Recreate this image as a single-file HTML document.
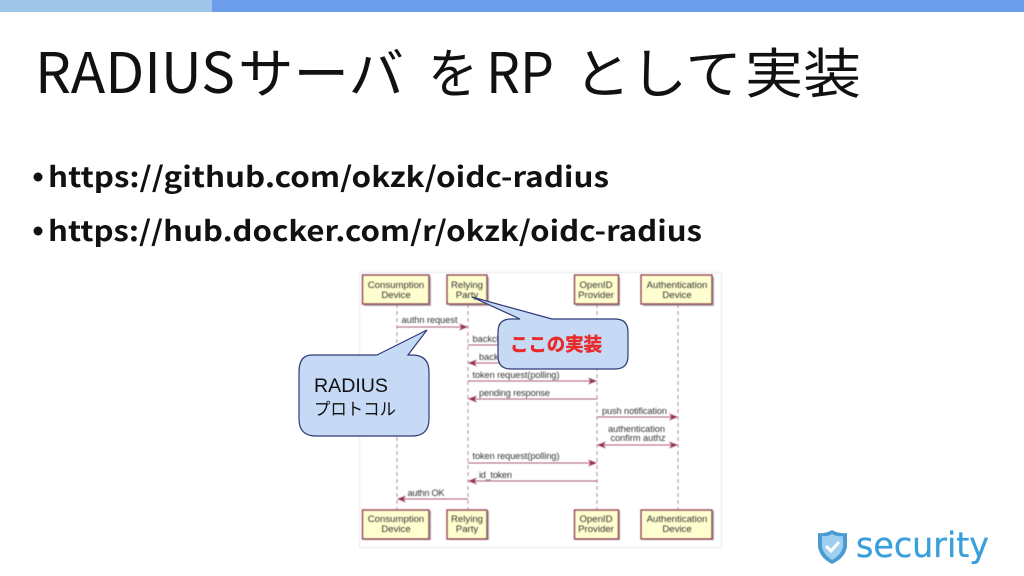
<!DOCTYPE html>
<html><head><meta charset="utf-8"><style>
html,body{margin:0;padding:0;background:#fff;width:1024px;height:576px;overflow:hidden}
svg{display:block}
.t{font-family:"Noto Sans CJK JP","Liberation Sans",sans-serif;font-weight:400;font-size:54px;fill:#111}
.l{font-family:"Noto Sans CJK JP","Liberation Sans",sans-serif;font-weight:400;font-size:56px;fill:#111}
.b{font-family:"Noto Sans CJK JP","Liberation Sans",sans-serif;font-weight:700;font-size:28px;fill:#111}
.n{font-family:"Liberation Sans",sans-serif;font-size:9.6px;fill:#333;text-anchor:middle}
.m{font-family:"Liberation Sans",sans-serif;font-size:9.2px;fill:#333}
.box{fill:#fefece;stroke:#8a3a4c;stroke-width:1.3}
.sh{fill:#888;opacity:.7}
.life{stroke:#9a5a70;stroke-opacity:.7;stroke-width:1;stroke-dasharray:4 3}
.ar{stroke:#a04060;stroke-opacity:.85;stroke-width:1;fill:none}
.hd{fill:#8f2448;opacity:.9}
.soft{filter:blur(.4px)}
.crisp{filter:blur(.2px)}
</style></head><body>
<svg width="1024" height="576" viewBox="0 0 1024 576" xmlns="http://www.w3.org/2000/svg">
<rect x="0" y="0" width="1024" height="12" fill="#6d9eeb"/>
<rect x="0" y="0" width="212" height="12" fill="#9fc5e8"/>

<text class="l" x="35" y="93" textLength="200" lengthAdjust="spacingAndGlyphs">RADIUS</text>
<text class="t" x="238" y="93" textLength="166" lengthAdjust="spacingAndGlyphs">サーバ</text>
<text class="t" x="428" y="93" textLength="50" lengthAdjust="spacingAndGlyphs">を</text>
<text class="l" x="486" y="93" textLength="68" lengthAdjust="spacingAndGlyphs">RP</text>
<text class="t" x="574" y="93" textLength="168" lengthAdjust="spacingAndGlyphs">として</text>
<text class="t" x="745" y="93" textLength="116" lengthAdjust="spacingAndGlyphs">実装</text>

<circle cx="38" cy="177" r="4.5" fill="#111"/>
<circle cx="38" cy="231" r="4.5" fill="#111"/>
<text class="b" x="48" y="187" textLength="561" lengthAdjust="spacingAndGlyphs">https://github.com/okzk/oidc-radius</text>
<text class="b" x="48" y="241" textLength="654" lengthAdjust="spacingAndGlyphs">https://hub.docker.com/r/okzk/oidc-radius</text>

<g class="soft">
<rect x="359.5" y="272.5" width="362" height="275" fill="#fff" stroke="#e6e8ec"/>

<g class="life">
<line x1="397" y1="304" x2="397" y2="509"/>
<line x1="468" y1="304" x2="468" y2="509"/>
<line x1="597" y1="304" x2="597" y2="509"/>
<line x1="678" y1="304" x2="678" y2="509"/>
</g>

<rect class="sh" x="364" y="277" width="67" height="29"/><rect class="sh" x="449" y="277" width="40" height="29"/><rect class="sh" x="576" y="277" width="44" height="29"/><rect class="sh" x="643" y="277" width="71" height="29"/>
<rect class="sh" x="364" y="511" width="67" height="29"/><rect class="sh" x="449" y="511" width="40" height="29"/><rect class="sh" x="576" y="511" width="44" height="29"/><rect class="sh" x="643" y="511" width="71" height="29"/>

<rect class="box" x="362.5" y="275" width="66.5" height="29"/><rect class="box" x="447" y="275" width="40" height="29"/><rect class="box" x="574.5" y="275" width="44" height="29"/><rect class="box" x="641" y="275" width="71" height="29"/>
<rect class="box" x="362.5" y="510" width="66.5" height="29"/><rect class="box" x="447" y="510" width="40" height="29"/><rect class="box" x="574.5" y="510" width="44" height="29"/><rect class="box" x="641" y="510" width="71" height="29"/>

<g class="n">
<text x="396" y="288">Consumption</text><text x="396" y="298">Device</text>
<text x="467" y="288">Relying</text><text x="467" y="298">Party</text>
<text x="596" y="288">OpenID</text><text x="596" y="298">Provider</text>
<text x="677" y="288">Authentication</text><text x="677" y="298">Device</text>
<text x="396" y="522">Consumption</text><text x="396" y="532">Device</text>
<text x="467" y="522">Relying</text><text x="467" y="532">Party</text>
<text x="596" y="522">OpenID</text><text x="596" y="532">Provider</text>
<text x="677" y="522">Authentication</text><text x="677" y="532">Device</text>
</g>

<g class="ar">
<line x1="397" y1="327" x2="466" y2="327"/>
<line x1="468" y1="345" x2="510" y2="345"/>
<line x1="470" y1="363" x2="510" y2="363"/>
<line x1="468" y1="381" x2="595" y2="381"/>
<line x1="470" y1="399" x2="597" y2="399"/>
<line x1="597" y1="417" x2="676" y2="417"/>
<line x1="599" y1="445" x2="676" y2="445"/>
<line x1="468" y1="463" x2="595" y2="463"/>
<line x1="470" y1="481" x2="597" y2="481"/>
<line x1="399" y1="499" x2="468" y2="499"/>
</g>
<g class="hd">
<path d="M468 327l-9-3.5 2.5 3.5-2.5 3.5z"/>
<path d="M468 363l9-3.5-2.5 3.5 2.5 3.5z"/>
<path d="M597 381l-9-3.5 2.5 3.5-2.5 3.5z"/>
<path d="M468 399l9-3.5-2.5 3.5 2.5 3.5z"/>
<path d="M678 417l-9-3.5 2.5 3.5-2.5 3.5z"/>
<path d="M597 445l9-3.5-2.5 3.5 2.5 3.5z"/>
<path d="M678 445l-9-3.5 2.5 3.5-2.5 3.5z"/>
<path d="M597 463l-9-3.5 2.5 3.5-2.5 3.5z"/>
<path d="M468 481l9-3.5-2.5 3.5 2.5 3.5z"/>
<path d="M397 499l9-3.5-2.5 3.5 2.5 3.5z"/>
</g>
<g class="m">
<text x="401.5" y="323" textLength="56">authn request</text>
<text x="472.5" y="342">backchannel</text>
<text x="479" y="360">backchannel</text>
<text x="472.5" y="378" textLength="87">token request(polling)</text>
<text x="479" y="396" textLength="71">pending response</text>
<text x="602" y="414" textLength="65">push notification</text>
<text x="608" y="432" textLength="57">authentication</text>
<text x="610.5" y="441" textLength="55">confirm authz</text>
<text x="472.5" y="459" textLength="87">token request(polling)</text>
<text x="479" y="478" textLength="33">id_token</text>
<text x="407.5" y="496" textLength="37">authn OK</text>
</g>
</g>

<g class="crisp">
<path d="M312 355H377L427 330L408 355H412Q429 355 429 372V419Q429 436 412 436H316Q299 436 299 419V372Q299 355 312 355Z" fill="#c6d9f5" stroke="#2f3a78" stroke-width="1.2"/>
<text x="314" y="392" font-family="Liberation Sans,sans-serif" font-size="19" fill="#111" textLength="74" lengthAdjust="spacingAndGlyphs">RADIUS</text>
<text x="314" y="415" font-family="'Noto Sans CJK JP',sans-serif" font-size="17" fill="#111" textLength="82" lengthAdjust="spacingAndGlyphs">プロトコル</text>

<path d="M511 319H520L472 297L552 319H615Q628 319 628 332V356Q628 369 615 369H511Q498 369 498 356V332Q498 319 511 319Z" fill="#c6d9f5" stroke="#2f3a78" stroke-width="1.2"/>
<text x="510" y="351" font-family="'Noto Sans CJK JP',sans-serif" font-weight="700" font-size="18.5" fill="#e82a2a" stroke="#e82a2a" stroke-width=".5" textLength="92" lengthAdjust="spacingAndGlyphs">ここの実装</text>
</g>

<g class="crisp">
<path d="M832 530Q825 534 818 533V547Q820 558 832 564Q845 558 847 547V533Q839 534 832 530Z" fill="#4c9bd0"/>
<path d="M832 534Q827 537 822 536V547Q824 555 832 560Q841 555 843 547V536Q837 537 832 534Z" fill="#9dd0f0"/>
<path d="M826 546l5 5 8-9" fill="none" stroke="#fff" stroke-width="3"/>
<text x="856" y="557" font-family="DejaVu Sans,sans-serif" font-size="35" fill="#39a0dc" stroke="#39a0dc" stroke-width=".3" textLength="133" lengthAdjust="spacingAndGlyphs">security</text>
</g>
</svg>
</body></html>
